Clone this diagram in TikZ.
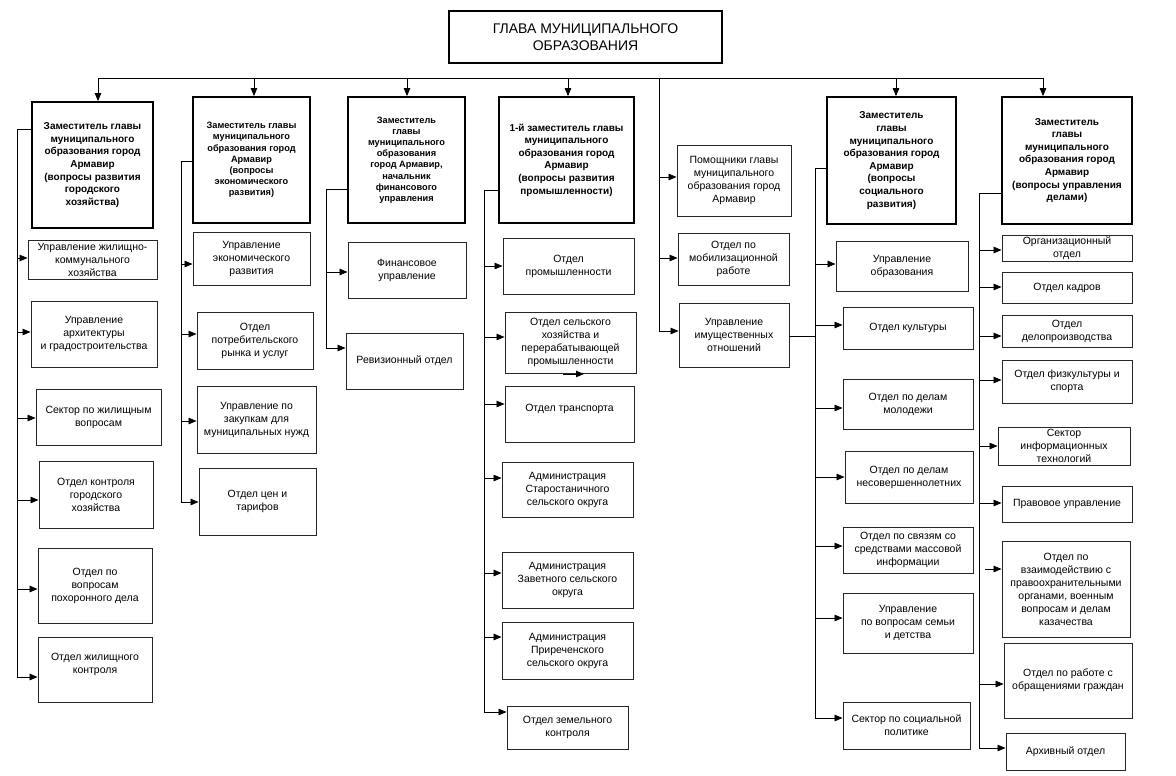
\documentclass[tikz,border=0pt]{standalone}
\usepackage{fontspec}
\setmainfont{Liberation Sans}
\usetikzlibrary{arrows.meta}
\tikzset{
  box/.style={draw=black!85, line width=0.9pt, inner sep=1pt, align=center, font=\fontsize{10.5}{13}\selectfont},
  dep/.style={box, draw=black, line width=1.8pt, font=\bfseries\fontsize{10}{12.6}\selectfont},
  deps/.style={dep, font=\bfseries\fontsize{9.2}{11.2}\selectfont},
  topbox/.style={box, draw=black, line width=1.4pt, font=\fontsize{14}{17.5}\selectfont},
  arr/.style={-{Triangle[length=8pt,width=6.5pt]}, line width=0.8pt},
  bus/.style={line width=0.8pt}
}
\newcommand\bx[7][]{\node[box,#1,minimum width={#4-#2},minimum height={#5-#3}] (#6) at ({(#2+#4)/2},{(#3+#5)/2}) {#7};}
\newcommand\harr[3]{\coordinate (tmp) at (#1,#2); \draw[arr] (tmp) -- (#3.west |- tmp);}
\newcommand\varr[2]{\coordinate (tmp) at (#1,78); \draw[arr] (tmp) -- (#2.north -| tmp);}
\newcommand\busline[4]{\coordinate (t#1) at (#2,#3); \coordinate (e#1) at (#2,#4);}
\begin{document}
\begin{tikzpicture}[x=1pt,y=-1pt]
\useasboundingbox (0,0) rectangle (1176,776);
% top
\bx[topbox]{449}{11}{722}{63}{head}{ГЛАВА МУНИЦИПАЛЬНОГО\\ОБРАЗОВАНИЯ}
% deputies
\bx[dep]{32}{102}{153}{228}{d1}{Заместитель главы\\муниципального\\образования город\\Армавир\\(вопросы развития\\городского\\хозяйства)}
\bx[deps]{193}{97}{310}{223}{d2}{Заместитель главы\\муниципального\\образования город\\Армавир\\(вопросы\\экономического\\развития)}
\bx[deps]{348}{97}{465}{223}{d3}{Заместитель\\главы\\муниципального\\образования\\город Армавир,\\начальник\\финансового\\управления}
\bx[dep]{499}{97}{634}{223}{d4}{1-й заместитель главы\\муниципального\\образования город\\Армавир\\(вопросы развития\\промышленности)}
\bx{677}{145}{791}{216}{a1}{Помощники главы\\муниципального\\образования  город\\Армавир}
\bx[dep]{827}{97}{956}{224}{d6}{Заместитель\\главы\\муниципального\\образования город\\Армавир\\(вопросы\\социального\\развития)}
\bx[dep]{1002}{97}{1132}{224}{d7}{Заместитель\\главы\\муниципального\\образования город\\Армавир\\(вопросы управления\\делами)}
% top bus
\coordinate (bl) at (98,78);
\coordinate (br) at (1044,78);
\draw[bus] (bl) -- (br);
\varr{98}{d1}
\varr{254}{d2}
\varr{407}{d3}
\varr{568}{d4}
\varr{896}{d6}
\varr{1043}{d7}
% column 1
\bx{28}{240}{157}{279}{c11}{Управление жилищно-\\коммунального\\хозяйства}
\bx{31}{301}{157}{367}{c12}{Управление\\архитектуры\\и градостроительства}
\bx{36}{389}{161}{445}{c13}{Сектор по жилищным\\вопросам}
\bx{39}{461}{153}{528}{c14}{Отдел контроля\\городского\\хозяйства}
\bx{38}{548}{152}{623}{c15}{Отдел по\\вопросам\\похоронного дела}
\bx{38}{637}{152}{702}{c16}{Отдел жилищного\\контроля\\\mbox{}}
\busline{1}{17}{129}{677}
\draw[bus] (d1.west |- t1) -- (t1) -- (e1);
\harr{17}{258}{c11}
\harr{17}{332}{c12}
\harr{17}{418}{c13}
\harr{17}{500}{c14}
\harr{17}{589}{c15}
\harr{17}{677}{c16}
% column 2
\bx{193}{232}{310}{285}{c21}{Управление\\экономического\\развития}
\bx{197}{312}{313}{369}{c22}{Отдел\\потребительского\\рынка и услуг}
\bx{197}{386}{316}{453}{c23}{Управление по\\закупкам для\\муниципальных нужд}
\bx{199}{468}{316}{535}{c24}{Отдел цен и\\тарифов}
\busline{2}{181}{161}{502}
\draw[bus] (d2.west |- t2) -- (t2) -- (e2);
\harr{181}{264}{c21}
\harr{181}{334}{c22}
\harr{181}{421}{c23}
\harr{181}{502}{c24}
% column 3
\bx{348}{242}{466}{298}{c31}{Финансовое\\управление}
\bx{346}{333}{463}{389}{c32}{Ревизионный отдел}
\busline{3}{326}{189}{348}
\draw[bus] (d3.west |- t3) -- (t3) -- (e3);
\harr{326}{272}{c31}
\harr{326}{348}{c32}
% column 4
\bx{503}{238}{634}{294}{c41}{Отдел\\промышленности}
\bx{505}{312}{636}{373}{c42}{Отдел сельского\\хозяйства и\\перерабатывающей\\промышленности}
\bx{505}{386}{634}{442}{c43}{Отдел транспорта\\\mbox{}}
\bx{502}{462}{633}{517}{c44}{Администрация\\Старостаничного\\сельского округа}
\bx{502}{552}{633}{608}{c45}{Администрация\\Заветного сельского\\округа}
\bx{502}{622}{633}{679}{c46}{Администрация\\Приреченского\\сельского округа}
\bx{507}{706}{628}{749}{c47}{Отдел земельного\\контроля}
\busline{4}{484}{190}{712}
\draw[bus] (d4.west |- t4) -- (t4) -- (e4);
\harr{484}{266}{c41}
\harr{484}{337}{c42}
\harr{484}{404}{c43}
\harr{484}{478}{c44}
\harr{484}{573}{c45}
\harr{484}{637}{c46}
\harr{484}{712}{c47}
\coordinate (s1) at (563,374);
\coordinate (s2) at (584,374);
\draw[arr] (s1) -- (s2);
% column 5 (assistants)
\bx{678}{233}{789}{285}{a2}{Отдел по\\мобилизационной\\работе}
\bx{679}{303}{789}{367}{a3}{Управление\\имущественных\\отношений}
\busline{5}{659}{78}{331}
\draw[bus] (t5) -- (e5);
\harr{659}{177}{a1}
\harr{659}{258}{a2}
\harr{659}{331}{a3}
% column 6
\bx{836}{241}{968}{291}{c61}{Управление\\образования}
\bx{843}{307}{973}{349}{c62}{Отдел культуры}
\bx{843}{379}{973}{429}{c63}{Отдел по делам\\молодежи}
\bx{845}{451}{973}{503}{c64}{Отдел по делам\\несовершеннолетних}
\bx{843}{527}{973}{573}{c65}{Отдел по связям со\\средствами массовой\\информации}
\bx{843}{593}{973}{653}{c66}{Управление\\по вопросам семьи\\и детства}
\bx{843}{702}{970}{749}{c67}{Сектор по социальной\\политике}
\busline{6}{815}{168}{718}
\draw[bus] (d6.west |- t6) -- (t6) -- (e6);
\coordinate (m6) at (815,336);
\draw[bus] (a3.east |- m6) -- (m6);
\harr{815}{264}{c61}
\harr{815}{325}{c62}
\harr{815}{408}{c63}
\harr{815}{477}{c64}
\harr{815}{546}{c65}
\harr{815}{618}{c66}
\harr{815}{718}{c67}
% column 7
\bx{1002}{235}{1132}{261}{c71}{Организационный\\отдел}
\bx{1002}{272}{1132}{303}{c72}{Отдел кадров}
\bx{1002}{315}{1132}{347}{c73}{Отдел\\делопроизводства}
\bx{1002}{360}{1132}{403}{c74}{Отдел физкультуры и\\спорта}
\bx{998}{427}{1130}{465}{c75}{Сектор\\информационных\\технологий}
\bx{1002}{486}{1132}{522}{c76}{Правовое управление}
\bx{1002}{541}{1130}{637}{c77}{Отдел по\\взаимодействию с\\правоохранительными\\органами, военным\\вопросам и делам\\казачества}
\bx{1004}{643}{1132}{718}{c78}{Отдел по работе с\\обращениями граждан}
\bx{1006}{733}{1125}{770}{c79}{Архивный отдел}
\busline{7}{979}{193}{748}
\draw[bus] (d7.west |- t7) -- (t7) -- (e7);
\harr{979}{250}{c71}
\harr{979}{287}{c72}
\harr{979}{336}{c73}
\harr{979}{380}{c74}
\harr{979}{446}{c75}
\harr{979}{503}{c76}
\harr{985}{569}{c77}
\harr{979}{684}{c78}
\harr{979}{748}{c79}
\end{tikzpicture}
\end{document}
